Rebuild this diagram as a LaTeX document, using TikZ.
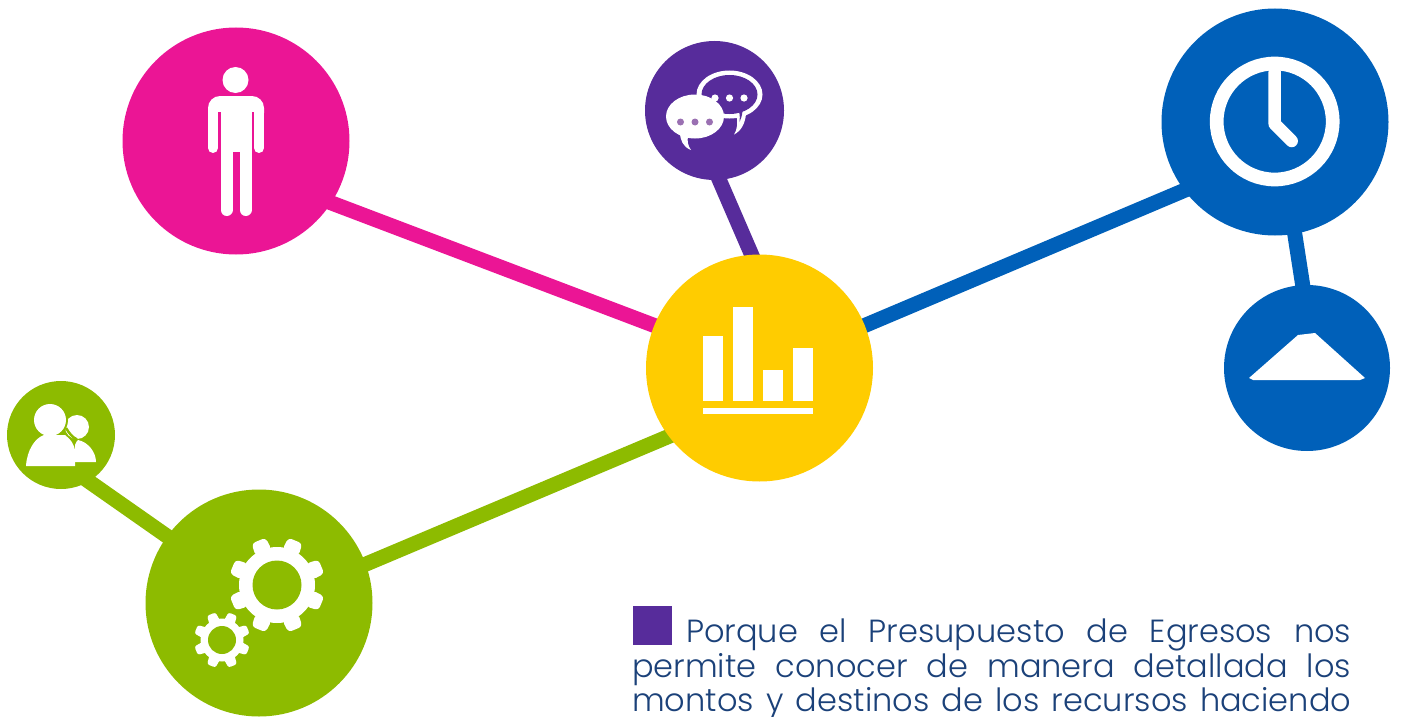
\documentclass[tikz,border=0pt]{standalone}
\usepackage{fontspec}
\setmainfont{Poppins}[UprightFont=* Light]
\usetikzlibrary{backgrounds}
\definecolor{cpink}{HTML}{EB1595}
\definecolor{cpurple}{HTML}{572C9B}
\definecolor{cblue}{HTML}{0060B9}
\definecolor{cyellow}{HTML}{FFCC00}
\definecolor{cgreen}{HTML}{8DBB00}
\definecolor{ctext}{HTML}{1B4179}
\definecolor{cdot}{HTML}{9A70B2}
\tikzset{
  disc/.style={circle,fill=#1,draw=none,inner sep=0pt},
  link/.style={draw=#1,line width=15pt,shorten <=-8pt,shorten >=-8pt},
}
\newcommand{\gearicon}[7]{% cx cy hole body tip width bg
  \fill[white] (#1,#2) circle[radius=#4];
  \foreach \a in {22.5,67.5,...,360}{
    \fill[white,rounded corners=#6*0.25pt,rotate around={\a:(#1,#2)}]
      (#1+#4-3,#2-#6/2-1.2) -- (#1+#5,#2-#6/2) -- (#1+#5,#2+#6/2) -- (#1+#4-3,#2+#6/2+1.2) -- cycle;
  }
  \fill[#7] (#1,#2) circle[radius=#3];
}
\newcommand{\spreadline}[2]{\leavevmode\hbox to #1{\spaceskip=0.3em plus 1fil\relax #2}}
\begin{document}
\begin{tikzpicture}[x=1pt,y=-1pt]
\useasboundingbox (0,0) rectangle (1403,717);
% discs
\node[disc=cpink,minimum size=227pt] (person) at (236,141) {};
\node[disc=cpurple,minimum size=139pt] (chat) at (714.5,110.5) {};
\node[disc=cblue,minimum size=227pt] (clock) at (1275,122) {};
\node[disc=cblue,minimum size=166pt] (lamp) at (1307,368) {};
\node[disc=cyellow,minimum size=227pt] (chart) at (759.5,368) {};
\node[disc=cgreen,minimum size=108pt] (users) at (61,435) {};
\node[disc=cgreen,minimum size=227pt] (gears) at (259,603) {};
% connectors
\begin{scope}[on background layer]
\draw[link=cpink] (person.-33) -- (chart.158);
\draw[link=cpurple] (chat.-86) -- (chart.94);
\draw[link=cblue] (chart.22.5) -- (clock.-143);
\draw[link=cblue] (clock.-80) -- (lamp.93.5);
\draw[link=cgreen] (chart.217.7) -- (gears.20);
\draw[link=cgreen] (users.-59) -- (gears.144);
\end{scope}
% person
\fill[white] (235.5,80) circle[radius=13];
\fill[white,rounded corners=12pt] (208,125) -- (208,96) -- (264,96) -- (264,125) -- cycle;
\draw[white,line width=10pt,line cap=round] (213,110) -- (213,148);
\draw[white,line width=10pt,line cap=round] (259,110) -- (259,148);
\fill[white] (221,100) rectangle (252,152);
\draw[white,line width=12pt,line cap=round] (226.5,140) -- (226.5,210);
\draw[white,line width=12pt,line cap=round] (245.5,140) -- (245.5,210);
\fill[cpink] (218,112) rectangle (220.5,150);
\fill[cpink] (251.5,112) rectangle (254,150);
% chart
\fill[white] (703,336) rectangle (723,401);
\fill[white] (733,307) rectangle (753,401);
\fill[white] (763,370) rectangle (783,401);
\fill[white] (793,348) rectangle (813,401);
\fill[white] (703,408) rectangle (813,414);
% clock
\draw[white,line width=13.7pt] (1274.7,121.5) circle[radius=58];
\draw[white,line width=12.5pt,line cap=round,line join=round] (1274.7,72) -- (1274.7,124) -- (1291.7,141);
% lamp
\fill[white] (1298,335) -- (1315,333) -- (1365,378) -- (1360,380) -- (1253,380) -- (1249,378) -- cycle;
% chat
\fill[white] (729.5,94.5) ellipse[x radius=33,y radius=24];
\fill[white] (736.5,115) .. controls (738,124) and (737,130) .. (734,134.5) .. controls (741,131) and (745,124) .. (746,114) -- cycle;
\fill[cpurple] (729.5,94.5) ellipse[x radius=28,y radius=19.5];
\fill[cpurple] (739,111) .. controls (740,116) and (740,119) .. (739.5,122) .. controls (741,119) and (742,116) .. (742.5,111) -- cycle;
\fill[white] (715,98) circle[radius=3.6];
\fill[white] (729.5,98) circle[radius=3.6];
\fill[white] (744,98) circle[radius=3.6];
\fill[white] (695,116.5) ellipse[x radius=29,y radius=22];
\fill[white] (680,132) .. controls (680,140) and (683,147) .. (691,150) .. controls (688,146) and (687,141) .. (688,136) -- cycle;
\fill[cdot] (680.5,122) circle[radius=3.5];
\fill[cdot] (695,122) circle[radius=3.5];
\fill[cdot] (709.5,122) circle[radius=3.5];
% users
\fill[white] (77,427) circle[radius=12];
\fill[white] (75,462) -- (75,445) .. controls (76,442) and (77,441) .. (78,440) .. controls (88,442) and (96,452) .. (96,462) -- cycle;
\fill[cgreen] (50,420) circle[radius=18];
\draw[cgreen,line width=2.5pt] (66,428) .. controls (69,433) and (72,437) .. (77,439.5);
\fill[white] (50,420) circle[radius=16];
\fill[white] (26,466) .. controls (27,450) and (35,438) .. (44,435) -- (65,435) .. controls (70,439) and (75,444) .. (75,452) -- (75,466) -- cycle;
% gears
\gearicon{277}{585}{24.5}{38}{48}{15}{cgreen}
\gearicon{222}{640}{14}{21.5}{28}{9}{cgreen}
% text
\node[fill=cpurple,minimum size=39pt,inner sep=0pt,anchor=north west] (mark) at (633,606) {};
\node[anchor=north west,inner sep=0pt,text=ctext,font=\fontsize{32}{34.5}\selectfont,text width=719pt,align=left] (para) at (632,619)
{\hspace*{54pt}\spreadline{665pt}{Porque el Presupuesto de Egresos nos}\\
\spreadline{719pt}{permite conocer de manera detallada los}\\
\spreadline{719pt}{montos y destinos de los recursos haciendo}};
\end{tikzpicture}
\end{document}
